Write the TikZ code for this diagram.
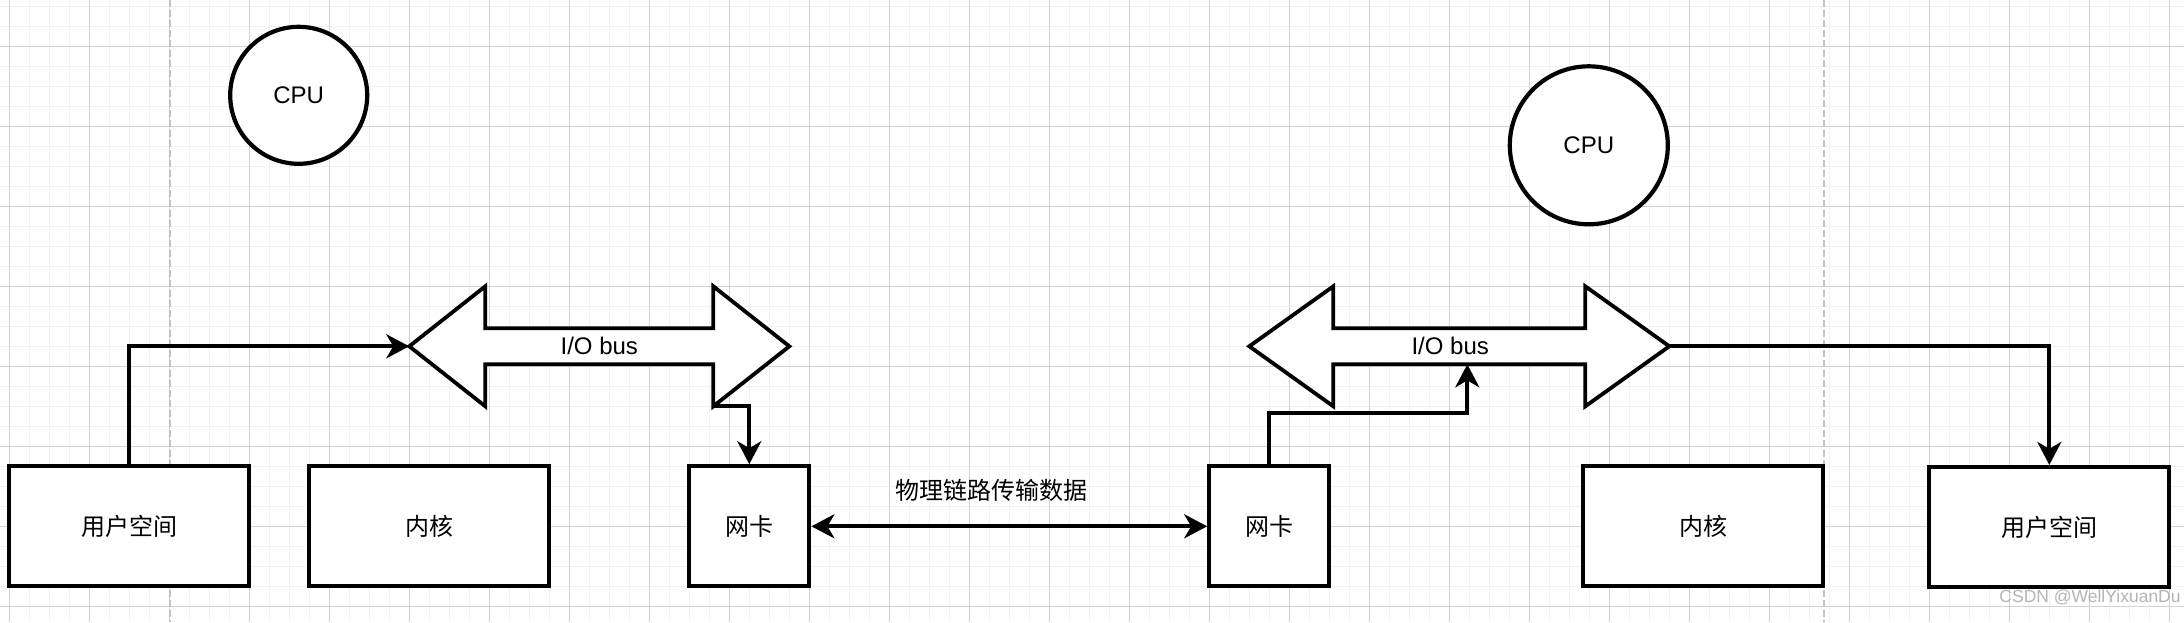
\documentclass[tikz,border=0pt]{standalone}
\usepackage{fontspec}
\setmainfont{Liberation Sans}
\newfontfamily\cjk{Noto Sans CJK SC}
\usetikzlibrary{arrows.meta}

\definecolor{gridminor}{HTML}{F1F1F1}
\definecolor{gridmajor}{HTML}{D2D2D2}
\definecolor{divider}{HTML}{C2C2C2}
\definecolor{markgray}{HTML}{B4B4B4}

\tikzset{
  unitbox/.style={draw, line width=2.1pt, fill=white, inner sep=0pt,
    minimum width=120pt, minimum height=60pt, font=\cjk\fontsize{12}{14}\selectfont},
  nicbox/.style={unitbox, minimum width=60pt},
  cpunode/.style={draw, circle, line width=2.1pt, fill=white, inner sep=0pt,
    font=\fontsize{12}{14}\selectfont},
  busshape/.style={draw, line width=1.9pt, fill=white, line join=miter},
  buslabel/.style={font=\fontsize{12}{14}\selectfont, inner sep=0pt},
  tipstyle/.tip={Stealth[length=11.5pt, width=12pt, inset=3.5pt]},
  conn/.style={line width=1.9pt, -tipstyle},
  biconn/.style={line width=1.9pt, tipstyle-tipstyle},
  gridthin/.style={gridminor, line width=0.6pt},
  gridthick/.style={gridmajor, line width=0.6pt},
  splitline/.style={divider, line width=1pt, dash pattern=on 3.3pt off 1.7pt}
}

\begin{document}
\begin{tikzpicture}[x=0.5pt, y=-0.5pt]
\useasboundingbox (0,0) rectangle (2184,622);
\fill[white] (0,0) rectangle (2184,622);

% background grid and section dividers
\begin{scope}
  \clip (0,0) rectangle (2184,622);
  \foreach \k in {0,...,111} \draw[gridthin] ({-10.7+20*\k},0) -- ({-10.7+20*\k},622);
  \foreach \k in {0,...,31} \draw[gridthin] (0,{6.3+20*\k}) -- (2184,{6.3+20*\k});
  \foreach \k in {0,...,27} \draw[gridthick] ({9.3+80*\k},0) -- ({9.3+80*\k},622);
  \foreach \k in {0,...,7} \draw[gridthick] (0,{46.3+80*\k}) -- (2184,{46.3+80*\k});
  \draw[splitline] (170,0) -- (170,622);
  \draw[splitline] (1824,0) -- (1824,622);
\end{scope}

% processors
\node[cpunode, minimum size=68.5pt] (cpuL) at (298.7,95.3) {CPU};
\node[cpunode, minimum size=79pt] (cpuR) at (1588.8,145.3) {CPU};

% left host I/O bus
\draw[busshape] (409.3,346.3) coordinate (busL-w) -- (485.3,286.3) -- (485.3,328.3)
  -- (713.3,328.3) -- (713.3,286.3) -- (789.3,346.3) coordinate (busL-e)
  -- (713.3,406.3) coordinate (busL-se) -- (713.3,364.3) -- (485.3,364.3)
  -- (485.3,406.3) -- cycle;
\node[buslabel] (busLtext) at (599.3,346.3) {I/O bus};

% right host I/O bus
\draw[busshape] (1249.3,346.3) coordinate (busR-w) -- (1333.3,286.3) -- (1333.3,328.3)
  -- (1585.3,328.3) -- (1585.3,286.3) -- (1669.3,346.3) coordinate (busR-e)
  -- (1585.3,406.3) -- (1585.3,364.3) -- (1333.3,364.3)
  -- (1333.3,406.3) -- cycle;
\coordinate (busR-in) at (1467.3,364.3);
\node[buslabel] (busRtext) at (1450.2,346.3) {I/O bus};

% hosts
\node[unitbox] (userL) at (129.3,526.3) {用户空间};
\node[unitbox] (kernelL) at (429.3,526.3) {内核};
\node[nicbox] (nicL) at (749.3,526.3) {网卡};
\node[nicbox] (nicR) at (1269.3,526.3) {网卡};
\node[unitbox] (kernelR) at (1703.3,526.3) {内核};
\node[unitbox] (userR) at (2049.3,527) {用户空间};

% data path
\draw[conn] (userL.north) |- (busL-w);
\draw[conn] (busL-se) -| (nicL.north);
\draw[biconn] (nicL.east) -- (nicR.west);
\node[font=\cjk\fontsize{12}{14}\selectfont, inner sep=0pt] (linktext) at (991.7,490) {物理链路传输数据};
\draw[conn] (nicR.north) -- ++(0,-51) -| (busR-in);
\draw[conn] (busR-e) -| (userR.north);

% watermark
\node[anchor=east, text=markgray, inner sep=0pt, font=\fontsize{8.75}{10}\selectfont] (mark) at (2181,597.5) {CSDN @WellYixuanDu};
\end{tikzpicture}
\end{document}
